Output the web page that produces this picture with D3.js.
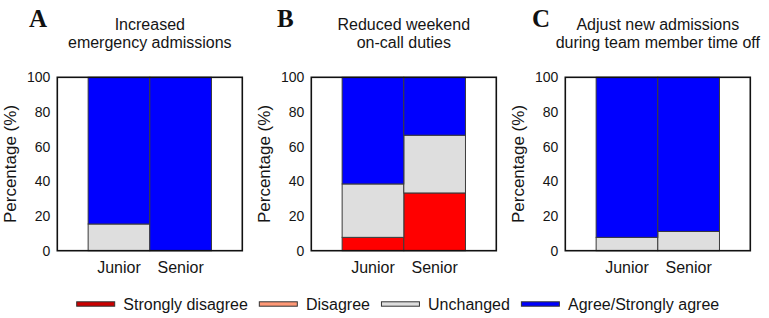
<!DOCTYPE html>
<html><head><meta charset="utf-8">
<script src="https://cdn.jsdelivr.net/npm/d3@7"></script>
<style>
html,body{margin:0;padding:0;background:#fff;}
svg{display:block;font-family:"Liberation Sans",Arial,sans-serif;}
</style></head>
<body><svg id="chart" width="769" height="318"></svg>
<script>
const panelLetters = ["A", "B", "C"];
const panelTitles = [
  ["Increased", "emergency admissions"],
  ["Reduced weekend", "on-call duties"],
  ["Adjust new admissions", "during team member time off"]
];
const groups = ["Junior", "Senior"];
const categories = ["Strongly disagree", "Disagree", "Unchanged", "Agree/Strongly agree"];
// values per panel: [Junior, Senior]
const strongDisagree = [[0, 0], [7.7, 33.3], [0, 0]];
const disagree = [[0, 0], [0, 0], [0, 0]];
const unchanged = [[15.4, 0], [30.8, 33.3], [7.7, 11.1]];
const agree = [[84.6, 100], [61.5, 33.4], [92.3, 88.9]];
const yTicks = [0, 20, 40, 60, 80, 100];
const yLabel = "Percentage (%)";

const colors = ["#ff0000", "#ff9977", "#dedede", "#0000ff"];
const legendColors = ["#cc0000", "#ff9977", "#dedede", "#0000ff"];
const seriesValues = [strongDisagree, disagree, unchanged, agree];

const svg = d3.select("#chart");
const W = 185, H = 173.4, plotTop = 77.3;
const panelLeft = i => 57.3 + i * 254;
const letterX = [29, 277, 532];
const textColor = "#151515";

panelLetters.forEach((letter, i) => {
  const x0 = panelLeft(i);
  const g = svg.append("g").attr("transform", `translate(${x0},${plotTop})`);
  const x = d3.scaleBand().domain(groups).range([0, W]).paddingInner(0).paddingOuter(0.5);
  const y = d3.scaleLinear().domain([0, 100]).range([H, 0]);

  const rows = groups.map((grp, j) => {
    const r = {group: grp};
    categories.forEach((c, k) => r[c] = seriesValues[k][i][j]);
    return r;
  });
  const stacked = d3.stack().keys(categories)(rows);

  stacked.forEach((layer, k) => {
    g.selectAll(null).data(layer.filter(d => d[1] - d[0] > 0)).enter().append("rect")
      .attr("x", d => x(d.data.group))
      .attr("width", x.bandwidth())
      .attr("y", d => y(d[1]))
      .attr("height", d => y(d[0]) - y(d[1]))
      .attr("fill", colors[k])
      .attr("stroke", "#3a3a3a")
      .attr("stroke-width", 1);
  });

  // frame
  g.append("rect").attr("x", 0).attr("y", 0).attr("width", W).attr("height", H)
    .attr("fill", "none").attr("stroke", "#111").attr("stroke-width", 1.6);

  // y axis
  const yAxis = d3.axisLeft(y).tickValues(yTicks).tickSize(0).tickPadding(7);
  const ya = g.append("g").call(yAxis);
  ya.select(".domain").remove();
  ya.selectAll("text").attr("font-size", "14px").attr("fill", textColor)
    .attr("font-family", "'Liberation Sans',Arial,sans-serif");

  // x axis labels
  const xAxis = d3.axisBottom(x).tickSize(0).tickPadding(11);
  const xa = g.append("g").attr("transform", `translate(0,${H})`).call(xAxis);
  xa.select(".domain").remove();
  xa.selectAll("text").attr("font-size", "16px").attr("fill", textColor)
    .attr("font-family", "'Liberation Sans',Arial,sans-serif");

  // y label
  g.append("text").attr("transform", `translate(-41,${H / 2}) rotate(-90)`)
    .attr("text-anchor", "middle").attr("font-size", "17px").attr("fill", textColor)
    .text(yLabel);

  // title
  const t = g.append("text").attr("text-anchor", "middle").attr("font-size", "16px").attr("fill", textColor);
  panelTitles[i].forEach((line, li) => {
    t.append("tspan").attr("x", W / 2).attr("y", 30 + li * 17.5 - plotTop).text(line);
  });

  // panel letter
  svg.append("text").attr("x", letterX[i]).attr("y", 27)
    .attr("font-family", "'Liberation Serif','Times New Roman',serif")
    .attr("font-weight", "bold").attr("font-size", "25px").attr("fill", "#111")
    .text(letter);
});

// legend
const lg = svg.append("g").attr("transform", "translate(0,304)");
let cx = 76.7;
categories.forEach((c, k) => {
  lg.append("rect").attr("x", cx).attr("y", -2.2).attr("width", 38).attr("height", 4.4)
    .attr("fill", legendColors[k]).attr("stroke", "#333").attr("stroke-width", 1);
  const txt = lg.append("text").attr("x", cx + 38 + 8.6).attr("y", 0).attr("dy", "0.35em")
    .attr("font-size", "16px").attr("fill", textColor).text(c);
  cx = cx + 38 + 8.6 + txt.node().getComputedTextLength() + 11.5;
});
</script>
</body></html>
